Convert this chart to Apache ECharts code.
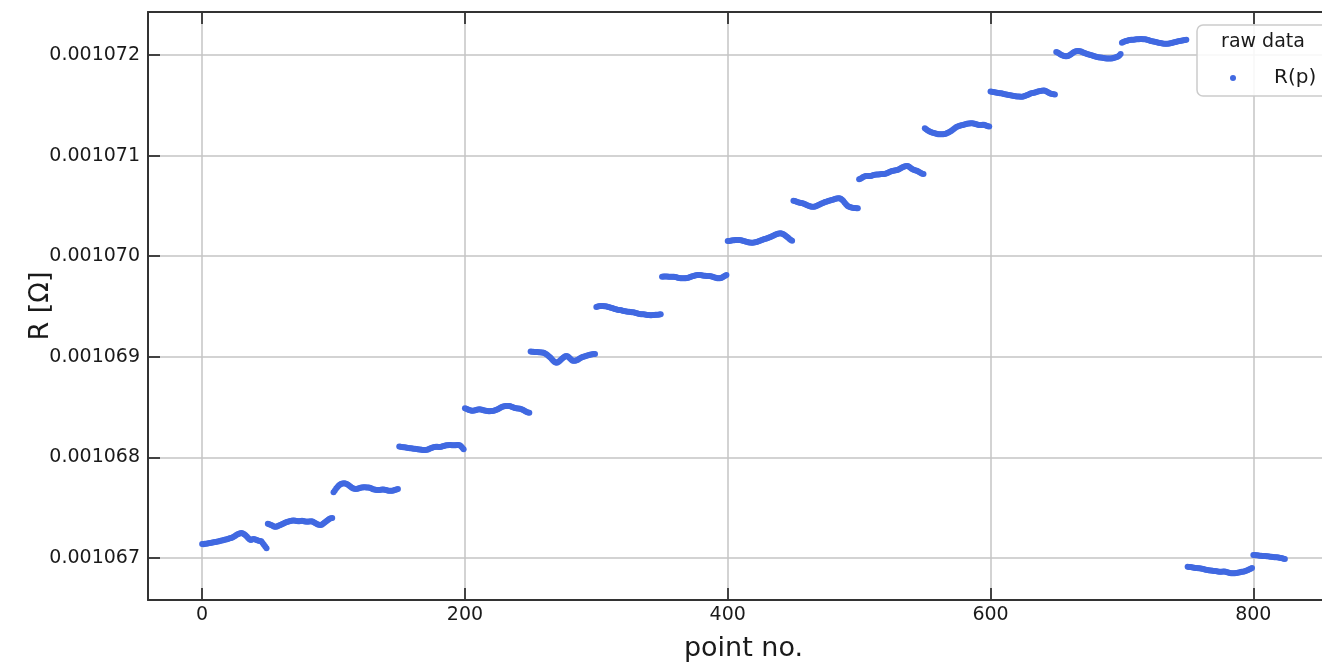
<!DOCTYPE html>
<html>
<head>
<meta charset="utf-8">
<script src="https://cdn.jsdelivr.net/npm/echarts@6/dist/echarts.min.js"></script>
<style>
html,body{margin:0;padding:0;background:#fff;}
#chart{width:1322px;height:664px;}
</style>
</head>
<body>
<div id="chart"></div>
<script>
// Resistance values in µΩ (50 points per plateau)
const seg0 = [1067.140,1067.138,1067.142,1067.141,1067.145,1067.147,1067.150,1067.152,1067.155,1067.158,
1067.160,1067.163,1067.165,1067.168,1067.172,1067.175,1067.178,1067.182,1067.185,1067.188,
1067.192,1067.196,1067.200,1067.205,1067.212,1067.220,1067.228,1067.236,1067.242,1067.246,
1067.248,1067.244,1067.236,1067.226,1067.214,1067.200,1067.186,1067.180,1067.184,1067.190,
1067.188,1067.182,1067.176,1067.172,1067.170,1067.166,1067.150,1067.132,1067.114,1067.098];
const seg1 = [1067.340,1067.336,1067.330,1067.325,1067.318,1067.312,1067.310,1067.314,1067.320,1067.326,
1067.332,1067.338,1067.344,1067.350,1067.356,1067.360,1067.364,1067.368,1067.370,1067.372,
1067.372,1067.370,1067.368,1067.366,1067.366,1067.368,1067.370,1067.368,1067.364,1067.362,
1067.360,1067.362,1067.364,1067.366,1067.362,1067.356,1067.348,1067.340,1067.334,1067.330,
1067.328,1067.332,1067.340,1067.350,1067.360,1067.370,1067.380,1067.390,1067.396,1067.398];
const seg2 = [1067.655,1067.672,1067.690,1067.706,1067.720,1067.730,1067.738,1067.742,1067.744,1067.742,
1067.736,1067.728,1067.718,1067.708,1067.698,1067.692,1067.688,1067.686,1067.688,1067.692,
1067.696,1067.700,1067.702,1067.704,1067.704,1067.702,1067.702,1067.700,1067.696,1067.690,
1067.684,1067.680,1067.678,1067.676,1067.676,1067.676,1067.678,1067.680,1067.680,1067.678,
1067.676,1067.672,1067.670,1067.668,1067.668,1067.670,1067.674,1067.678,1067.682,1067.686];
const seg3 = [1068.108,1068.106,1068.104,1068.102,1068.100,1068.098,1068.095,1068.093,1068.091,1068.090,
1068.088,1068.086,1068.085,1068.084,1068.082,1068.080,1068.078,1068.076,1068.075,1068.074,
1068.074,1068.076,1068.080,1068.085,1068.090,1068.095,1068.100,1068.104,1068.106,1068.106,
1068.104,1068.104,1068.106,1068.110,1068.114,1068.118,1068.120,1068.122,1068.124,1068.124,
1068.122,1068.120,1068.120,1068.122,1068.124,1068.124,1068.122,1068.112,1068.096,1068.082];
const seg4 = [1068.490,1068.484,1068.478,1068.472,1068.468,1068.465,1068.464,1068.466,1068.470,1068.474,
1068.477,1068.478,1068.477,1068.474,1068.470,1068.466,1068.463,1068.461,1068.460,1068.460,
1068.461,1068.462,1068.464,1068.468,1068.474,1068.480,1068.487,1068.494,1068.500,1068.505,
1068.508,1068.510,1068.511,1068.511,1068.510,1068.506,1068.500,1068.495,1068.491,1068.488,
1068.487,1068.486,1068.484,1068.480,1068.474,1068.466,1068.458,1068.452,1068.447,1068.443];
const seg5 = [1069.052,1069.050,1069.050,1069.049,1069.048,1069.047,1069.046,1069.045,1069.044,1069.042,
1069.040,1069.034,1069.026,1069.016,1069.004,1068.992,1068.978,1068.964,1068.952,1068.944,
1068.942,1068.948,1068.958,1068.970,1068.982,1068.994,1069.003,1069.008,1069.006,1068.996,
1068.982,1068.970,1068.962,1068.960,1068.962,1068.966,1068.972,1068.980,1068.988,1068.996,
1069.000,1069.004,1069.008,1069.012,1069.016,1069.020,1069.022,1069.025,1069.027,1069.028];
const seg6 = [1069.496,1069.500,1069.503,1069.505,1069.505,1069.504,1069.503,1069.502,1069.500,1069.496,
1069.492,1069.488,1069.484,1069.480,1069.476,1069.472,1069.468,1069.466,1069.465,1069.462,
1069.458,1069.455,1069.452,1069.450,1069.449,1069.448,1069.446,1069.444,1069.442,1069.440,
1069.436,1069.432,1069.428,1069.425,1069.424,1069.424,1069.422,1069.420,1069.418,1069.416,
1069.415,1069.414,1069.414,1069.415,1069.416,1069.417,1069.418,1069.419,1069.420,1069.422];
const seg7 = [1069.796,1069.797,1069.798,1069.798,1069.797,1069.796,1069.796,1069.796,1069.796,1069.795,
1069.793,1069.790,1069.787,1069.784,1069.782,1069.780,1069.780,1069.780,1069.781,1069.783,
1069.786,1069.790,1069.795,1069.800,1069.804,1069.808,1069.811,1069.813,1069.813,1069.812,
1069.810,1069.808,1069.806,1069.805,1069.804,1069.803,1069.802,1069.800,1069.797,1069.793,
1069.789,1069.785,1069.782,1069.780,1069.780,1069.783,1069.790,1069.798,1069.806,1069.812];
const seg8 = [1070.150,1070.152,1070.154,1070.156,1070.158,1070.159,1070.160,1070.161,1070.161,1070.161,
1070.159,1070.156,1070.152,1070.148,1070.144,1070.140,1070.137,1070.135,1070.134,1070.134,
1070.135,1070.138,1070.142,1070.146,1070.150,1070.155,1070.160,1070.165,1070.170,1070.174,
1070.178,1070.183,1070.188,1070.194,1070.200,1070.206,1070.212,1070.218,1070.223,1070.226,
1070.228,1070.226,1070.220,1070.212,1070.203,1070.194,1070.184,1070.172,1070.162,1070.154];
const seg9 = [1070.552,1070.548,1070.543,1070.538,1070.534,1070.530,1070.528,1070.526,1070.522,1070.516,
1070.510,1070.504,1070.498,1070.494,1070.492,1070.491,1070.492,1070.496,1070.502,1070.508,
1070.514,1070.520,1070.526,1070.532,1070.538,1070.542,1070.546,1070.550,1070.554,1070.558,
1070.562,1070.566,1070.570,1070.573,1070.576,1070.576,1070.572,1070.562,1070.548,1070.532,
1070.516,1070.502,1070.494,1070.488,1070.484,1070.482,1070.480,1070.478,1070.477,1070.476];
const seg10 = [1070.764,1070.770,1070.778,1070.786,1070.792,1070.796,1070.798,1070.798,1070.797,1070.798,
1070.802,1070.806,1070.810,1070.812,1070.812,1070.812,1070.814,1070.816,1070.817,1070.818,
1070.820,1070.824,1070.830,1070.836,1070.842,1070.846,1070.850,1070.852,1070.854,1070.857,
1070.862,1070.868,1070.876,1070.884,1070.890,1070.895,1070.897,1070.896,1070.890,1070.880,
1070.870,1070.862,1070.856,1070.852,1070.848,1070.842,1070.834,1070.826,1070.820,1070.816];
const seg11 = [1071.272,1071.262,1071.252,1071.244,1071.237,1071.232,1071.228,1071.224,1071.220,1071.216,
1071.213,1071.212,1071.211,1071.211,1071.212,1071.214,1071.218,1071.224,1071.230,1071.236,
1071.244,1071.254,1071.264,1071.274,1071.283,1071.290,1071.295,1071.298,1071.301,1071.304,
1071.308,1071.312,1071.316,1071.318,1071.320,1071.321,1071.322,1071.320,1071.316,1071.312,
1071.308,1071.305,1071.304,1071.304,1071.306,1071.306,1071.302,1071.296,1071.291,1071.288];
const seg12 = [1071.636,1071.634,1071.632,1071.630,1071.628,1071.625,1071.622,1071.620,1071.619,1071.616,
1071.613,1071.610,1071.607,1071.604,1071.602,1071.600,1071.597,1071.594,1071.591,1071.589,
1071.588,1071.587,1071.586,1071.585,1071.585,1071.587,1071.591,1071.596,1071.602,1071.608,
1071.614,1071.619,1071.622,1071.625,1071.628,1071.632,1071.636,1071.640,1071.643,1071.645,
1071.646,1071.646,1071.642,1071.634,1071.626,1071.620,1071.615,1071.611,1071.609,1071.608];
const seg13 = [1072.030,1072.024,1072.016,1072.008,1072.000,1071.994,1071.990,1071.988,1071.988,1071.990,
1071.996,1072.004,1072.014,1072.024,1072.032,1072.038,1072.040,1072.040,1072.038,1072.034,
1072.028,1072.022,1072.016,1072.012,1072.008,1072.004,1072.000,1071.996,1071.992,1071.988,
1071.984,1071.980,1071.978,1071.976,1071.974,1071.972,1071.970,1071.968,1071.966,1071.965,
1071.964,1071.964,1071.966,1071.968,1071.972,1071.976,1071.980,1071.984,1071.994,1072.010];
const seg14 = [1072.122,1072.128,1072.133,1072.138,1072.142,1072.145,1072.148,1072.150,1072.151,1072.152,
1072.154,1072.155,1072.156,1072.157,1072.158,1072.158,1072.157,1072.156,1072.155,1072.152,
1072.148,1072.144,1072.140,1072.137,1072.134,1072.131,1072.128,1072.125,1072.122,1072.119,
1072.116,1072.114,1072.112,1072.111,1072.111,1072.112,1072.114,1072.117,1072.120,1072.124,
1072.127,1072.130,1072.133,1072.136,1072.139,1072.142,1072.144,1072.146,1072.148,1072.150];
const seg15 = [1066.914,1066.912,1066.910,1066.908,1066.906,1066.904,1066.902,1066.900,1066.899,1066.898,
1066.896,1066.893,1066.890,1066.887,1066.884,1066.881,1066.878,1066.876,1066.875,1066.874,
1066.872,1066.870,1066.868,1066.866,1066.865,1066.864,1066.864,1066.866,1066.866,1066.864,
1066.860,1066.856,1066.852,1066.850,1066.848,1066.848,1066.849,1066.851,1066.854,1066.857,
1066.860,1066.863,1066.864,1066.866,1066.870,1066.876,1066.882,1066.888,1066.894,1066.900];
const seg16 = [1067.030,1067.030,1067.029,1067.028,1067.026,1067.024,1067.022,1067.021,1067.020,1067.020,
1067.019,1067.018,1067.016,1067.014,1067.012,1067.010,1067.009,1067.008,1067.007,1067.006,
1067.004,1067.001,1066.998,1066.994,1066.990];

const xTicks = [0, 200, 400, 600, 800];
const yTicks = [1067, 1068, 1069, 1070, 1071, 1072]; // µΩ -> shown as Ω
const seriesName = 'R(p)';
const legendTitle = 'raw data';
const xName = 'point no.';
const yName = 'R [Ω]';

const rValues = [].concat(seg0,seg1,seg2,seg3,seg4,seg5,seg6,seg7,seg8,seg9,seg10,seg11,seg12,seg13,seg14,seg15,seg16);
const points = rValues.map((v, i) => [i, v]);

const FONT = 'DejaVu Sans';
const AX = '#333333';
const GRIDC = '#c4c4c4';
const TXT = '#1a1a1a';

const chart = echarts.init(document.getElementById('chart'), null, {renderer: 'canvas'});
const xCommon = {
  type: 'value', min: -41.2, max: 865.2, splitNumber: 5,
  axisLine: {show: true, onZero: false, lineStyle: {color: AX, width: 2}},
  axisTick: {show: true, inside: true, length: 12, lineStyle: {color: AX, width: 1.8}},
};
const yCommon = {
  type: 'value', min: 1066.583, max: 1072.427, splitNumber: 5,
  axisLine: {show: true, onZero: false, lineStyle: {color: AX, width: 2}},
  axisTick: {show: true, inside: true, length: 12, lineStyle: {color: AX, width: 1.8}},
};
chart.setOption({
  animation: false,
  backgroundColor: '#fff',
  grid: {left: 148, top: 12, width: 1191, height: 588, containLabel: false, outerBoundsMode: 'none'},
  xAxis: [
    Object.assign({}, xCommon, {
      position: 'bottom',
      axisLabel: {show: true, fontFamily: FONT, fontSize: 19, color: TXT, margin: 6,
        showMinLabel: false, showMaxLabel: false,
        formatter: v => xTicks.includes(v) ? String(v) : ''},
      splitLine: {show: true, showMinLine: false, showMaxLine: false, lineStyle: {color: GRIDC, width: 1.5}},
      name: xName, nameLocation: 'middle', nameGap: 35, nameMoveOverlap: false,
      nameTextStyle: {fontFamily: FONT, fontSize: 27, color: TXT}
    }),
    Object.assign({}, xCommon, {
      position: 'top', axisLabel: {show: false}, splitLine: {show: false}
    })
  ],
  yAxis: [
    Object.assign({}, yCommon, {
      position: 'left',
      axisLabel: {show: true, fontFamily: FONT, fontSize: 19, color: TXT, margin: 8,
        showMinLabel: false, showMaxLabel: false,
        formatter: v => yTicks.includes(Math.round(v * 1000) / 1000) ? (v / 1e6).toFixed(6) : ''},
      splitLine: {show: true, showMinLine: false, showMaxLine: false, lineStyle: {color: GRIDC, width: 1.5}},
      name: yName, nameLocation: 'middle', nameGap: 94, nameMoveOverlap: false,
      nameTextStyle: {fontFamily: FONT, fontSize: 27, color: TXT}
    }),
    Object.assign({}, yCommon, {
      position: 'right', axisLabel: {show: false}, splitLine: {show: false}
    })
  ],
  legend: {
    show: true, data: [seriesName], left: 1225, top: 63,
    icon: 'circle', itemWidth: 6, itemHeight: 6, itemGap: 0,
    textStyle: {fontFamily: FONT, fontSize: 20, color: TXT, padding: [0, 0, 0, 33]},
    z: 110
  },
  graphic: [
    {type: 'rect', z: 100, shape: {x: 1197, y: 25, width: 200, height: 71, r: 6},
     style: {fill: 'rgba(255,255,255,0.85)', stroke: '#cccccc', lineWidth: 1.5}},
    {type: 'text', z: 101, x: 1263, y: 42,
     style: {text: legendTitle, font: '19px "DejaVu Sans"', fill: TXT, align: 'center', verticalAlign: 'middle'}}
  ],
  series: [{
    type: 'scatter', name: seriesName, data: points,
    xAxisIndex: 0, yAxisIndex: 0,
    symbol: 'circle', symbolSize: 6,
    itemStyle: {color: '#4169e1', opacity: 1},
    z: 5
  }]
});
</script>
</body>
</html>
